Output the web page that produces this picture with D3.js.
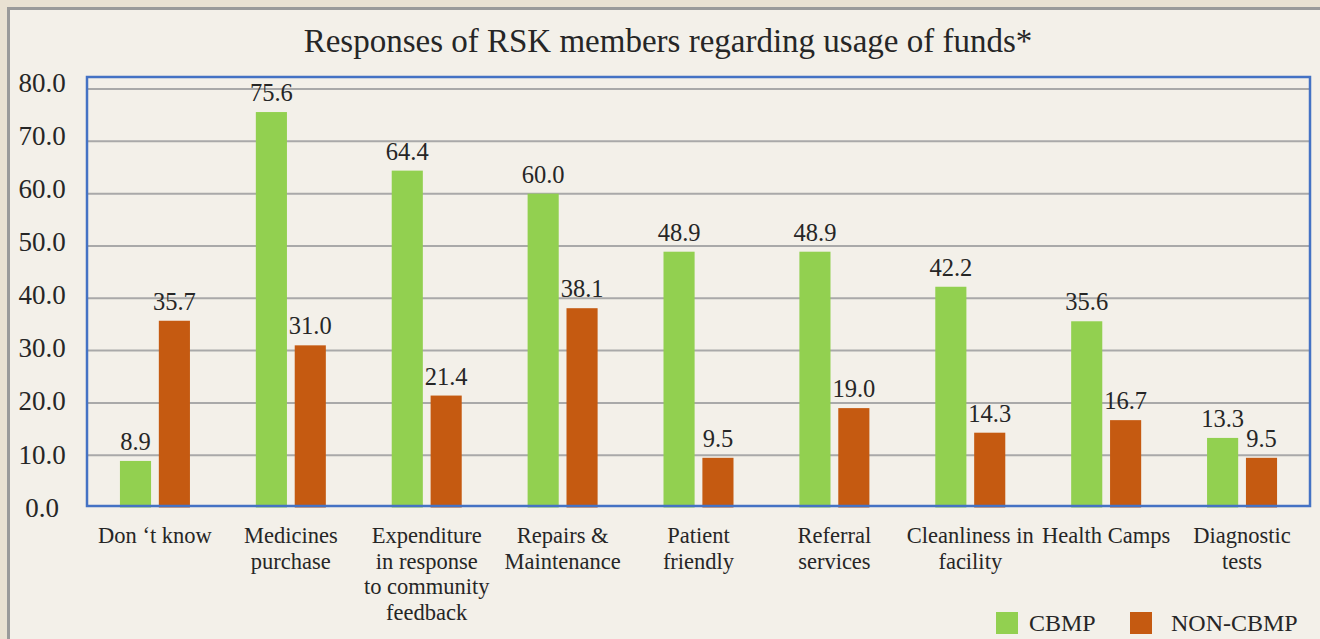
<!DOCTYPE html>
<html>
<head>
<meta charset="utf-8">
<script src="https://cdn.jsdelivr.net/npm/d3@7"></script>
<style>
  html, body { margin: 0; padding: 0; background: #e9e1d2; }
  svg { display: block; }
  text { font-family: "Liberation Serif", "DejaVu Serif", serif; fill: #262626; }
</style>
</head>
<body>
<svg id="chart" width="1320" height="639"></svg>
<script>
const title = "Responses of RSK members regarding usage of funds*";
const categories = [
  "Don \u2018t know",
  "Medicines\npurchase",
  "Expenditure\nin response\nto community\nfeedback",
  "Repairs &\nMaintenance",
  "Patient\nfriendly",
  "Referral\nservices",
  "Cleanliness in\nfacility",
  "Health Camps",
  "Diagnostic\ntests"
];
const seriesNames = ["CBMP", "NON-CBMP"];
const cbmp    = [8.9, 75.6, 64.4, 60.0, 48.9, 48.9, 42.2, 35.6, 13.3];
const nonCbmp = [35.7, 31.0, 21.4, 38.1, 9.5, 19.0, 14.3, 16.7, 9.5];
const yTicks = [0, 10, 20, 30, 40, 50, 60, 70, 80];
const colors = ["#92d050", "#c55a11"];

const svg = d3.select("#chart");

// outer frame panel
svg.append("rect")
  .attr("x", 8.5).attr("y", 8.5)
  .attr("width", 1330).attr("height", 650)
  .attr("fill", "#f3f0e9")
  .attr("stroke", "#9a9a9a").attr("stroke-width", 3);

const plot = { left: 87, right: 1310, top: 77, bottom: 506 };

const x = d3.scaleBand().domain(categories).range([plot.left, plot.right]).padding(0);
const xs = d3.scaleBand().domain(seriesNames).range([-35, 35]).paddingInner(0.2).paddingOuter(0);
const y = d3.scaleLinear().domain([0, 82.3]).range([507.5, plot.top]);
const yLabel = d3.scaleLinear().domain([0, 80]).range([507, 82]);

// gridlines
svg.append("g").selectAll("line")
  .data(yTicks.filter(d => d > 0))
  .join("line")
  .attr("x1", plot.left).attr("x2", plot.right)
  .attr("y1", d => y(d)).attr("y2", d => y(d))
  .attr("stroke", "#a9a9a9").attr("stroke-width", 2);

// bars
const data = categories.map((c, i) => ({ c, vals: [cbmp[i], nonCbmp[i]] }));
const groups = svg.append("g").selectAll("g")
  .data(data).join("g")
  .attr("transform", d => `translate(${x(d.c) + x.bandwidth() / 2},0)`);

groups.selectAll("rect")
  .data(d => d.vals.map((v, k) => ({ v, s: seriesNames[k], k })))
  .join("rect")
  .attr("x", d => xs(d.s))
  .attr("width", xs.bandwidth())
  .attr("y", d => y(d.v))
  .attr("height", d => y(0) - y(d.v))
  .attr("fill", d => colors[d.k]);

groups.selectAll("text.val")
  .data(d => d.vals.map((v, k) => ({ v, s: seriesNames[k], k })))
  .join("text")
  .attr("class", "val")
  .attr("x", d => xs(d.s) + xs.bandwidth() / 2)
  .attr("y", d => y(d.v) - 11)
  .attr("text-anchor", "middle")
  .attr("font-size", 24.5)
  .text(d => d3.format(".1f")(d.v));

// plot border
svg.append("rect")
  .attr("x", plot.left).attr("y", plot.top)
  .attr("width", plot.right - plot.left).attr("height", plot.bottom - plot.top)
  .attr("fill", "none").attr("stroke", "#4472c4").attr("stroke-width", 2.5);

// y axis labels
const yAxis = d3.axisLeft(yLabel).tickValues(yTicks).tickSize(0).tickFormat(d3.format(".1f"));
const yg = svg.append("g").attr("transform", "translate(42,0)").call(yAxis);
yg.select(".domain").remove();
yg.selectAll("text")
  .attr("x", 0).attr("dy", "0.34em")
  .attr("text-anchor", "middle")
  .attr("font-size", 27)
  .attr("font-family", '"Liberation Serif", serif')
  .attr("fill", "#262626");

// x category labels
const xg = svg.append("g").selectAll("text")
  .data(categories).join("text")
  .attr("text-anchor", "middle")
  .attr("font-size", 22.5)
  .attr("x", d => x(d) + x.bandwidth() / 2)
  .attr("y", 543);
xg.selectAll("tspan")
  .data(d => d.split("\n"))
  .join("tspan")
  .attr("x", function () { return d3.select(this.parentNode).attr("x"); })
  .attr("dy", (d, i) => i === 0 ? 0 : 25.5)
  .text(d => d);

// title
svg.append("text")
  .attr("x", 668).attr("y", 52)
  .attr("text-anchor", "middle")
  .attr("font-size", 33)
  .text(title);

// legend
const legendX = [996, 1130];
const lg = svg.append("g").selectAll("g")
  .data(seriesNames).join("g")
  .attr("transform", (d, i) => `translate(${legendX[i]},612)`);
lg.append("rect").attr("width", 22).attr("height", 22).attr("fill", (d, i) => colors[i]);
lg.append("text").attr("x", (d, i) => i === 0 ? 33 : 41).attr("y", 19)
  .attr("font-size", 24).text(d => d);
</script>
</body>
</html>
